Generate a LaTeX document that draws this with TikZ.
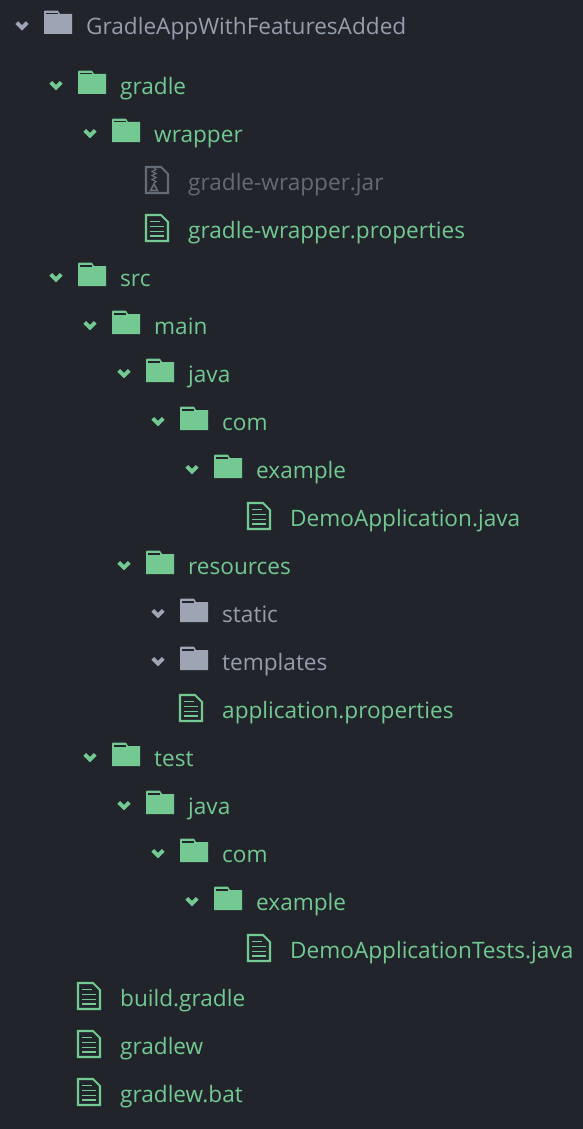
\documentclass[tikz,border=0pt]{standalone}
\usepackage{fontspec}
\setmainfont{Open Sans}
\definecolor{tpanel}{HTML}{21252B}
\definecolor{tgreen}{HTML}{73C991}
\definecolor{tgray}{HTML}{9DA5B4}
\definecolor{tdim}{HTML}{646A76}
\usetikzlibrary{positioning}

\tikzset{
  lbl/.style={anchor=base west, inner sep=0pt, yshift=-0.7pt, font=\fontsize{22.6}{26}\selectfont, color=tgreen},
  lblroot/.style={lbl, color=tgray!94!tpanel},
  lbldim/.style={lbl, color=tdim},
  pics/chev/.style={code={
    \draw[line width=3.9pt] (-5.2,-2.6) -- (0,2.6) -- (5.2,-2.6);
  }},
  pics/foldericon/.style={code={
    \fill (0,-11) -- (0.8,-11.8) -- (14,-11.8) -- (16,-8.5) -- (28,-8.5) -- (28,11.5) -- (0,11.5) -- cycle;
    \fill[tpanel] (2,-9.8) rectangle (13.5,-8);
  }},
  pics/fileicon/.style={code={
    \draw[line width=2.1pt] (-11,-13) -- (4,-13) -- (11,-6) -- (11,13) -- (-11,13) -- cycle;
    \draw[line width=1.8pt] (-7,-6.5) -- (3,-6.5) (-7,-1.5) -- (7,-1.5) (-7,3.5) -- (7,3.5) (-7,8) -- (7,8);
  }},
  pics/zipicon/.style={code={
    \draw[line width=2.1pt] (-11,-13) -- (4,-13) -- (11,-6) -- (11,13) -- (-11,13) -- cycle;
    \draw[line width=1.2pt] (-3,-12) -- (-1,-10.5) -- (-5,-8.5) -- (-1,-6.5) -- (-5,-4.5) -- (-1,-2.5) -- (-5,-0.5) -- (-1,1.5) -- (-3,3);
    \draw[line width=1.6pt] (-3,4) -- (-6.5,10.5) -- (0.5,10.5) -- cycle;
  }},
}

\begin{document}
\begin{tikzpicture}[x=1pt, y=-1pt]

  \path[use as bounding box, fill=tpanel] (0,0) rectangle (583,1129);

  % ---------- root ----------
  \pic[color=tgray] at (22,25.3) {chev};
  \pic[color=tgray] at (44,22.5) {foldericon};
  \node[lblroot] (root) at (86,33.5) {GradleAppWithFeaturesAdded};

  % ---------- gradle ----------
  \pic[color=tgreen] at (56,85) {chev};
  \pic[color=tgreen] at (78,82.5) {foldericon};
  \node[lbl] (gradle) at (120,93.5) {gradle};
  \pic[color=tgreen] at (90,133) {chev};
  \pic[color=tgreen] at (112,130.5) {foldericon};
  \node[lbl] (wrapper) at (154,141.5) {wrapper};
  \pic[color=tdim] at (157,180) {zipicon};
  \node[lbldim] (jar) at (188,189.5) {gradle-wrapper.jar};
  \pic[color=tgreen] at (157,228) {fileicon};
  \node[lbl] (wrapprops) at (188,237.5) {gradle-wrapper.properties};

  % ---------- src/main ----------
  \pic[color=tgreen] at (56,277) {chev};
  \pic[color=tgreen] at (78,274.5) {foldericon};
  \node[lbl] (src) at (120,285.5) {src};
  \pic[color=tgreen] at (90,325) {chev};
  \pic[color=tgreen] at (112,322.5) {foldericon};
  \node[lbl] (main) at (154,333.5) {main};
  \pic[color=tgreen] at (124,373) {chev};
  \pic[color=tgreen] at (146,370.5) {foldericon};
  \node[lbl] (mainjava) at (188,381.5) {java};
  \pic[color=tgreen] at (158,421) {chev};
  \pic[color=tgreen] at (180,418.5) {foldericon};
  \node[lbl] (maincom) at (222,429.5) {com};
  \pic[color=tgreen] at (192,469) {chev};
  \pic[color=tgreen] at (214,466.5) {foldericon};
  \node[lbl] (mainexample) at (256,477.5) {example};
  \pic[color=tgreen] at (259,516) {fileicon};
  \node[lbl] (demoapp) at (290,525.5) {DemoApplication.java};
  \pic[color=tgreen] at (124,565) {chev};
  \pic[color=tgreen] at (146,562.5) {foldericon};
  \node[lbl] (resources) at (188,573.5) {resources};
  \pic[color=tgray] at (158,613) {chev};
  \pic[color=tgray] at (180,610.5) {foldericon};
  \node[lblroot] (static) at (222,621.5) {static};
  \pic[color=tgray] at (158,661) {chev};
  \pic[color=tgray] at (180,658.5) {foldericon};
  \node[lblroot] (templates) at (222,669.5) {templates};
  \pic[color=tgreen] at (191,708) {fileicon};
  \node[lbl] (appprops) at (222,717.5) {application.properties};

  % ---------- src/test ----------
  \pic[color=tgreen] at (90,757) {chev};
  \pic[color=tgreen] at (112,754.5) {foldericon};
  \node[lbl] (test) at (154,765.5) {test};
  \pic[color=tgreen] at (124,805) {chev};
  \pic[color=tgreen] at (146,802.5) {foldericon};
  \node[lbl] (testjava) at (188,813.5) {java};
  \pic[color=tgreen] at (158,853) {chev};
  \pic[color=tgreen] at (180,850.5) {foldericon};
  \node[lbl] (testcom) at (222,861.5) {com};
  \pic[color=tgreen] at (192,901) {chev};
  \pic[color=tgreen] at (214,898.5) {foldericon};
  \node[lbl] (testexample) at (256,909.5) {example};
  \pic[color=tgreen] at (259,948) {fileicon};
  \node[lbl] (demotests) at (290,957.5) {DemoApplicationTests.java};

  % ---------- top level files ----------
  \pic[color=tgreen] at (89,996) {fileicon};
  \node[lbl] (buildgradle) at (120,1005.5) {build.gradle};
  \pic[color=tgreen] at (89,1044) {fileicon};
  \node[lbl] (gradlew) at (120,1053.5) {gradlew};
  \pic[color=tgreen] at (89,1092) {fileicon};
  \node[lbl] (gradlewbat) at (120,1101.5) {gradlew.bat};

\end{tikzpicture}
\end{document}
